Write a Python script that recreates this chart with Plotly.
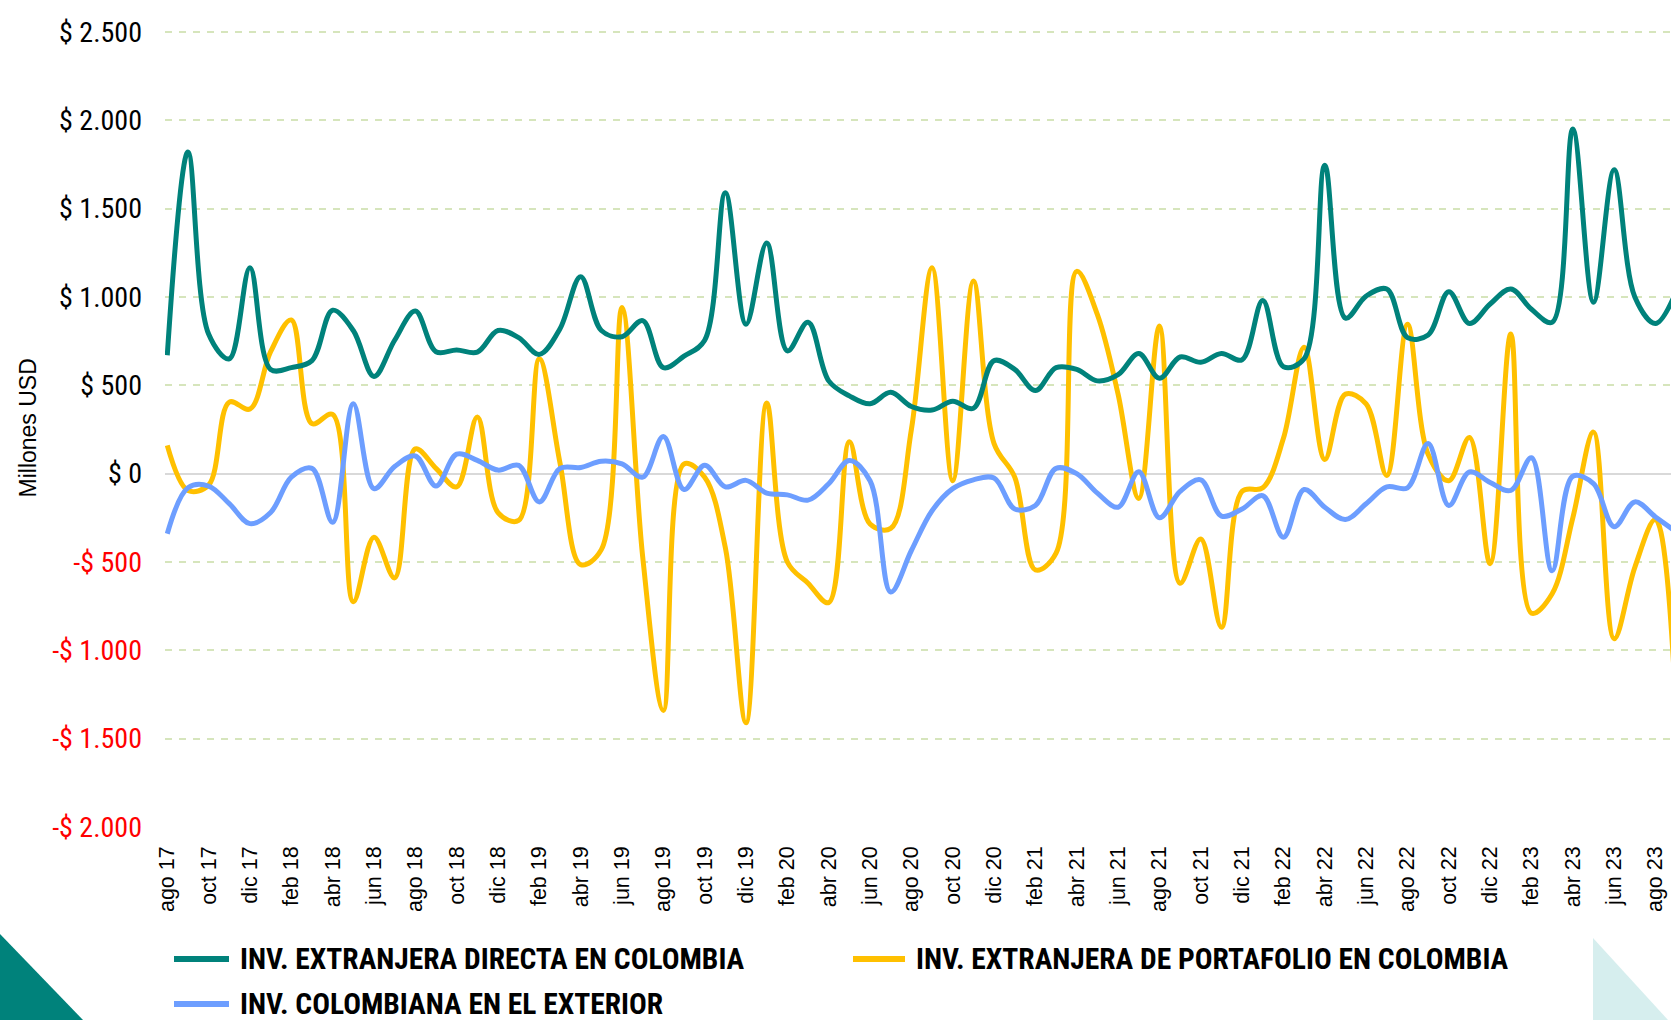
import plotly.graph_objects as go

# Month categories: ago 2017 .. sep 2023
MESES = ["ene", "feb", "mar", "abr", "may", "jun", "jul", "ago", "sep", "oct", "nov", "dic"]
periodos = []
for k in range(74):
    m = (7 + k) % 12
    a = 17 + (7 + k) // 12
    periodos.append(f"{MESES[m]} {a}")

# Millones USD
ied_colombia = [
    670, 1820, 790, 650, 1165, 590, 600, 640, 925, 810,
    550, 755, 920, 690, 700, 688, 810, 770, 675, 820,
    1115, 810, 775, 866, 600, 665, 755, 1590, 845, 1305,
    695, 857, 525, 440, 395, 460, 380, 360, 410, 370,
    640, 590, 470, 600, 590, 525, 560, 680, 540, 660,
    630, 680, 645, 980, 605, 650, 1745, 880, 1005, 1045,
    770, 785, 1030, 850, 960, 1045, 930, 857, 1950, 970,
    1720, 1000, 850, 1030,
]
iep_colombia = [
    160, -95, -65, 405, 366, 690, 870, 283, 335, -725,
    -360, -590, 140, 30, -75, 320, -220, -265, 650, 60,
    -515, -430, 940, -470, -1340, 55, -20, -420, -1410, 400,
    -500, -620, -730, 180, -285, -310, 250, 1165, -40, 1090,
    170, -20, -545, -450, 1145, 900, 450, -140, 835, -620,
    -370, -870, -100, -80, 200, 715, 80, 450, 395, -10,
    845, 110, -40, 205, -510, 790, -790, -680, -250, 235,
    -935, -530, -260, -1350,
]
inv_exterior = [
    -340, -80, -70, -170, -283, -220, -20, 30, -275, 395,
    -85, 40, 100, -70, 110, 75, 20, 47, -160, 30,
    35, 70, 55, -20, 210, -90, 47, -75, -38, -110,
    -120, -150, -57, 75, -40, -670, -435, -210, -85, -35,
    -25, -200, -180, 30, 0, -110, -190, 10, -250, -100,
    -35, -240, -200, -125, -360, -90, -190, -260, -170, -75,
    -80, 170, -180, 10, -50, -95, 90, -550, -15, -57,
    -300, -160, -245, -330,
]

series = [
    ("INV. EXTRANJERA DIRECTA EN COLOMBIA", ied_colombia, "#00827B"),
    ("INV. EXTRANJERA DE PORTAFOLIO EN COLOMBIA", iep_colombia, "#FFC000"),
    ("INV. COLOMBIANA EN EL EXTERIOR", inv_exterior, "#6D9EFF"),
]

x_ticks = periodos[0:73:2]
y_ticks = [-2000, -1500, -1000, -500, 0, 500, 1000, 1500, 2000, 2500]


def money(v):
    s = f"{abs(v):,}".replace(",", ".")
    if v < 0:
        return f'<span style="color:#FF0000">-$ {s}</span>'
    return f"$ {s}"


W, H = 1671, 1020
L, R, T, B = 165, 0, 30, 193
Y_MIN, Y_MAX = -2000, 2511
PW, PH = W - L - R, H - T - B


def px(xp):
    return (xp - L) / PW


def py(yp):
    return (H - B - yp) / PH


NARROW = "Liberation Sans Narrow, Arial Narrow, Roboto Condensed, sans-serif"
REG = "Liberation Sans, Arial, sans-serif"

fig = go.Figure()
# draw order: portfolio and exterior under direct investment
for idx in (1, 2, 0):
    name, vals, col = series[idx]
    fig.add_trace(go.Scatter(
        x=periodos, y=vals, name=name, mode="lines",
        line=dict(color=col, width=5, shape="spline", smoothing=1.0),
        showlegend=False,
    ))

fig.update_layout(
    width=W, height=H,
    margin=dict(l=L, r=R, t=T, b=B, pad=0),
    paper_bgcolor="white", plot_bgcolor="white",
    font=dict(family=REG, color="black"),
)
fig.update_xaxes(
    type="category", range=[-0.11, 72.75],
    tickmode="array", tickvals=x_ticks, ticktext=x_ticks,
    tickangle=-90, tickfont=dict(family=REG, size=21.5, color="black"),
    showgrid=False, showline=False, zeroline=False, ticks="",
    ticklabelstandoff=14,
)
fig.update_yaxes(
    range=[Y_MIN, Y_MAX], tickmode="array", tickvals=y_ticks,
    ticktext=[money(v) for v in y_ticks],
    tickfont=dict(family=NARROW, size=28, color="black"),
    showgrid=True, gridcolor="#D6E5BC", gridwidth=2, griddash="7px,7px",
    zeroline=True, zerolinecolor="#D9D9D9", zerolinewidth=2,
    showline=False, ticks="", ticklabelstandoff=22,
)

shapes = []
ann = []
# corner decorations
shapes.append(dict(type="path", xref="paper", yref="paper", layer="below",
                   path=f"M {px(0)} {py(934)} L {px(83)} {py(1020)} L {px(0)} {py(1020)} Z",
                   fillcolor="#00827B", line=dict(width=0)))
shapes.append(dict(type="path", xref="paper", yref="paper", layer="below",
                   path=f"M {px(1593)} {py(938)} L {px(1668)} {py(1020)} L {px(1593)} {py(1020)} Z",
                   fillcolor="#D6EEEE", line=dict(width=0)))

# legend
legend_pos = [
    (0, 174, 229, 238, 959),
    (1, 853, 905, 914, 959),
    (2, 174, 229, 238, 1004),
]
for idx, x0, x1, xt, yc in legend_pos:
    name, _, col = series[idx]
    shapes.append(dict(type="line", xref="paper", yref="paper",
                       x0=px(x0), x1=px(x1), y0=py(yc), y1=py(yc),
                       line=dict(color=col, width=6)))
    ann.append(dict(xref="paper", yref="paper", x=px(xt), y=py(yc),
                    xanchor="left", yanchor="middle", showarrow=False,
                    text=name, font=dict(family=NARROW, size=29.5, color="black", weight="bold")))

ann.append(dict(xref="paper", yref="paper", x=px(27), y=0.5, textangle=-90,
                xanchor="center", yanchor="middle", showarrow=False,
                text="Millones USD", font=dict(family=REG, size=23, color="black")))

fig.update_layout(shapes=shapes, annotations=ann)
fig.write_html("out.html")
